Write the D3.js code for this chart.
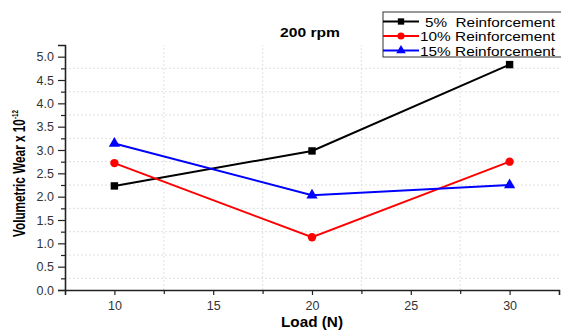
<!DOCTYPE html>
<html>
<head>
<meta charset="utf-8">
<script src="https://cdn.jsdelivr.net/npm/d3@7"></script>
<style>
  body { margin: 0; background: #fff; }
  text { font-family: "Liberation Sans", Arial, sans-serif; }
</style>
</head>
<body>
<div id="chart"></div>
<script>
// data
const loads = [10, 20, 30];
const wear5 = [2.23, 2.98, 4.83];
const wear10 = [2.72, 1.13, 2.75];
const wear15 = [3.14, 2.03, 2.25];
const seriesNames = ["5%  Reinforcement", "10% Reinforcement", "15% Reinforcement"];
const seriesColors = ["#000000", "#ff0000", "#0000ff"];
const seriesShapes = [d3.symbolSquare, d3.symbolCircle, d3.symbolTriangle];
const xTicks = [10, 15, 20, 25, 30];
const yTicks = [0, 0.5, 1, 1.5, 2, 2.5, 3, 3.5, 4, 4.5, 5];

(function () {
    const width = 561, height = 332;
    const margin = { left: 65, right: 2, top: 45, bottom: 42 };

    const svg = d3.select("#chart").append("svg")
        .attr("width", width)
        .attr("height", height);

    const x = d3.scaleLinear().domain([7.5, 32.5]).range([margin.left, width - margin.right]);
    const y = d3.scaleLinear().domain([0, 5.25]).range([height - margin.bottom, margin.top]);

    // grid sits on the minor positions
    const gx = d3.range(12.5, 32.5, 5);
    const gy = d3.range(0.25, 5.25, 0.5);
    svg.append("g").selectAll("line").data(gx).enter().append("line")
        .attr("x1", d => x(d)).attr("x2", d => x(d))
        .attr("y1", y(0)).attr("y2", y(5.25))
        .attr("stroke", "#e0e0e0").attr("stroke-dasharray", "2,2");
    svg.append("g").selectAll("line").data(gy).enter().append("line")
        .attr("x1", x(7.5)).attr("x2", x(32.5))
        .attr("y1", d => y(d)).attr("y2", d => y(d))
        .attr("stroke", "#e0e0e0").attr("stroke-dasharray", "2,2");

    // axes
    svg.append("g")
        .attr("transform", `translate(0,${y(0)})`)
        .call(d3.axisBottom(x).tickValues(xTicks).tickSize(5).tickPadding(6).tickFormat(d3.format("d")));
    svg.append("g")
        .attr("transform", `translate(0,${y(0)})`)
        .call(d3.axisBottom(x).tickValues(gx).tickSize(4).tickFormat(""))
        .select(".domain").remove();

    svg.append("g")
        .attr("transform", `translate(${x(7.5)},0)`)
        .call(d3.axisLeft(y).tickValues(yTicks).tickSize(7).tickPadding(4).tickFormat(d3.format(".1f")));
    svg.append("g")
        .attr("transform", `translate(${x(7.5)},0)`)
        .call(d3.axisLeft(y).tickValues(gy).tickSize(4).tickFormat(""))
        .select(".domain").remove();

    svg.selectAll(".domain").attr("stroke", "#222").attr("stroke-width", 1.6);
    svg.selectAll(".tick line").attr("stroke", "#222").attr("stroke-width", 1.2);
    svg.selectAll(".tick text").attr("font-size", 12.5).attr("fill", "#333")
        .style("font-family", "'Liberation Sans', Arial, sans-serif");

    // series
    const all = [wear5, wear10, wear15];
    const line = d3.line().x((d, i) => x(loads[i])).y(d => y(d));
    all.forEach((vals, k) => {
        svg.append("path").datum(vals)
            .attr("d", line)
            .attr("fill", "none")
            .attr("stroke", seriesColors[k])
            .attr("stroke-width", 2);
        svg.append("g").selectAll("path").data(vals).enter().append("path")
            .attr("transform", (d, i) => `translate(${x(loads[i])},${y(d)})`)
            .attr("d", d3.symbol().type(seriesShapes[k]).size(55))
            .attr("fill", seriesColors[k]);
    });

    // title
    svg.append("text")
        .attr("x", 310).attr("y", 37)
        .attr("text-anchor", "middle")
        .attr("font-size", 12.5).attr("font-weight", "bold")
        .attr("textLength", 60).attr("lengthAdjust", "spacingAndGlyphs")
        .text("200 rpm");

    // axis titles
    svg.append("text")
        .attr("x", 312).attr("y", 327)
        .attr("text-anchor", "middle")
        .attr("font-size", 14).attr("font-weight", "bold")
        .attr("textLength", 62).attr("lengthAdjust", "spacingAndGlyphs")
        .text("Load (N)");

    // the y title is drawn narrow in the source, squeeze it to fit
    const yl = svg.append("text")
        .attr("font-size", 17).attr("font-weight", "bold");
    yl.append("tspan").text("Volumetric Wear x 10");
    yl.append("tspan").attr("dy", -7).attr("font-size", 9).text("-12");
    const w = yl.node().getComputedTextLength();
    const sx = 127 / w;
    yl.attr("transform", `translate(25,${173.5 + 127 / 2}) rotate(-90) scale(${sx},1)`);

    // legend
    const lg = svg.append("g").attr("transform", "translate(383,12)");
    lg.append("rect")
        .attr("width", 182).attr("height", 45)
        .attr("fill", "#fff").attr("stroke", "#333").attr("stroke-width", 1);
    seriesNames.forEach((name, k) => {
        const ry = 9.5 + k * 14.5;
        lg.append("line")
            .attr("x1", 0).attr("x2", 36)
            .attr("y1", ry).attr("y2", ry)
            .attr("stroke", seriesColors[k]).attr("stroke-width", 2);
        lg.append("path")
            .attr("transform", `translate(18,${ry})`)
            .attr("d", d3.symbol().type(seriesShapes[k]).size(40))
            .attr("fill", seriesColors[k]);
        lg.append("text")
            .attr("x", k === 0 ? 42 : 37).attr("y", ry + 5)
            .attr("font-size", 13)
            .attr("textLength", k === 0 ? 130 : 135)
            .attr("lengthAdjust", "spacingAndGlyphs")
            .style("white-space", "pre")
            .text(name);
    });
})();
</script>
</body>
</html>
